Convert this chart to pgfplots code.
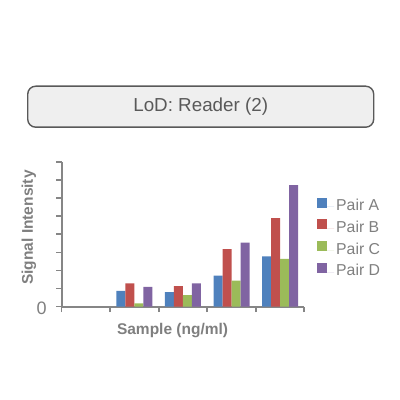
\documentclass[border=0pt]{standalone}
\usepackage{pgfplots}
\pgfplotsset{compat=1.18}
\usepackage{fontspec}
\setmainfont{Liberation Sans}

\definecolor{pairA}{HTML}{4F81BD}
\definecolor{pairB}{HTML}{C0504D}
\definecolor{pairC}{HTML}{9BBB59}
\definecolor{pairD}{HTML}{8064A2}
\definecolor{axgray}{HTML}{868686}
\definecolor{txtgray}{HTML}{7F7F7F}
\definecolor{titlegray}{HTML}{595959}
\definecolor{boxfill}{HTML}{EFEFEF}

\begin{document}
\begin{tikzpicture}[x=1pt,y=1pt]
\path[use as bounding box] (0,0) rectangle (400,400);
\begin{axis}[
    at={(61.7pt,93.3pt)}, anchor=south west,
    scale only axis,
    width=242.6pt, height=145pt,
    ybar=0pt, bar width=9pt,
    enlargelimits=false,
    xmin=-0.5, xmax=4.5,
    ymin=0, ymax=8,
    axis x line=bottom, axis y line=left,
    axis line style={-, draw=axgray, line width=2pt},
    tick align=outside,
    major tick length=5.5pt,
    tick style={draw=axgray, line width=1.6pt},
    xtick={-0.5,0.5,1.5,2.5,3.5,4.5},
    xticklabels={,,,,,},
    ytick={0,1,2,3,4,5,6,7,8},
    yticklabels={0,,,,,,,,},
    yticklabel style={font=\fontsize{18}{20}\selectfont, text=txtgray,
        xshift=-6pt, yshift=-2pt},
    title={LoD: Reader (2)},
    title style={at={(0.573,1.338)}, anchor=center,
        draw=titlegray, line width=1.4pt, fill=boxfill, rounded corners=8pt,
        minimum width=346pt, minimum height=41pt,
        font=\fontsize{18.8}{22}\selectfont, text=titlegray},
    xlabel={Sample (ng/ml)},
    xlabel style={at={(0.457,-0.165)}, anchor=center,
        font=\fontsize{15.5}{18}\selectfont\bfseries, text=txtgray},
    ylabel={Signal Intensity},
    ylabel style={at={(-0.1348,0.546)}, anchor=center,
        font=\fontsize{15.5}{18}\selectfont\bfseries, text=txtgray},
    legend style={at={(1.04,0.77)}, anchor=north west,
        draw=none, fill=none,
        font=\fontsize{15.8}{18}\selectfont, text=txtgray,
        row sep=3.4pt,
        nodes={text height=11pt, text depth=3.5pt, inner sep=2pt}},
    legend cell align=left,
    legend image code/.code={
        \fill[#1] (0pt,-1pt) rectangle (10pt,9pt);
        \path (0pt,0pt) -- (17pt,0pt);},
]
\addplot[fill=pairA, draw=none] coordinates {(1,0.87) (2,0.80) (3,1.71) (4,2.78)};
\addlegendentry{Pair A}
\addplot[fill=pairB, draw=none] coordinates {(1,1.29) (2,1.13) (3,3.18) (4,4.89)};
\addlegendentry{Pair B}
\addplot[fill=pairC, draw=none] coordinates {(1,0.18) (2,0.64) (3,1.44) (4,2.64)};
\addlegendentry{Pair C}
\addplot[fill=pairD, draw=none] coordinates {(1,1.09) (2,1.29) (3,3.53) (4,6.71)};
\addlegendentry{Pair D}
\end{axis}
\end{tikzpicture}
\end{document}
